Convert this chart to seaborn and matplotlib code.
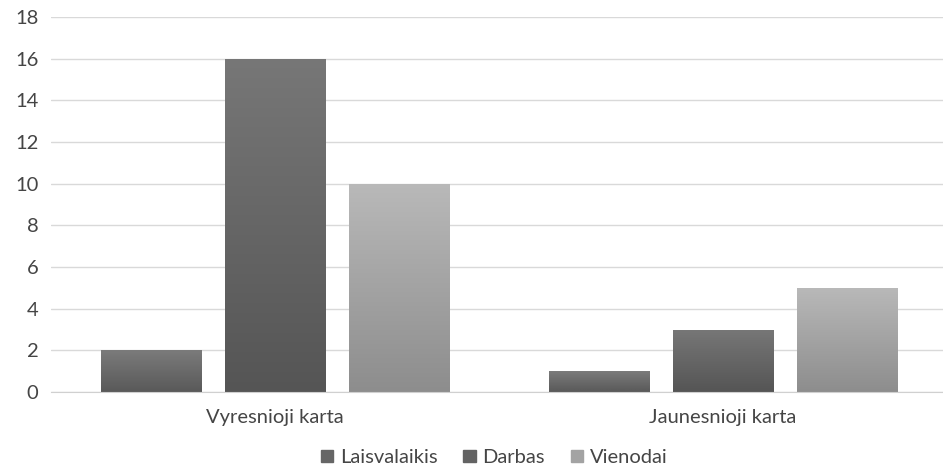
import numpy as np
import pandas as pd
import seaborn as sns
import matplotlib.pyplot as plt
from matplotlib.colors import LinearSegmentedColormap

categories = ["Vyresnioji karta", "Jaunesnioji karta"]
series = ["Laisvalaikis", "Darbas", "Vienodai"]
laisvalaikis = [2, 1]
darbas = [16, 3]
vienodai = [10, 5]

# top / bottom shades of each series gradient
shades = {
    "Laisvalaikis": ("#7b7b7b", "#595959"),
    "Darbas": ("#777777", "#555555"),
    "Vienodai": ("#b9b9b9", "#8d8d8d"),
}
legend_col = {"Laisvalaikis": "#666666", "Darbas": "#636363", "Vienodai": "#a3a3a3"}

df = pd.DataFrame({
    "karta": categories * 3,
    "atsakymas": [s for s in series for _ in categories],
    "kiekis": laisvalaikis + darbas + vienodai,
})

sns.set_style("white")
plt.rcParams["font.family"] = ["Lato", "DejaVu Sans"]
text_col = "#454545"
fs = 14.5

fig = plt.figure(figsize=(9.43, 4.70), dpi=100)
ax = fig.add_axes([51 / 943, 78 / 470, 892 / 943, 375 / 470])

palette = {s: shades[s][1] for s in series}
sns.barplot(data=df, x="karta", y="kiekis", hue="atsakymas", order=categories,
            hue_order=series, palette=palette, width=0.83, gap=0.19,
            ax=ax, legend=True, saturation=1)

ax.set_xlim(-0.5, 1.5 - 4 / 448)
ax.set_ylim(0, 18)

# vertical gradient inside each bar
grad = np.linspace(0, 1, 256).reshape(-1, 1)
for cont, s in zip(ax.containers, series):
    cmap = LinearSegmentedColormap.from_list(s, [shades[s][1], shades[s][0]])
    for patch in cont:
        x0, y0 = patch.get_x(), patch.get_y()
        w, h = patch.get_width(), patch.get_height()
        patch.set_edgecolor("#c8c8c8")
        patch.set_linewidth(0.6)
        im = ax.imshow(grad, cmap=cmap, aspect="auto", origin="lower",
                       extent=[x0, x0 + w, y0, y0 + h], zorder=patch.get_zorder() + 0.1)
        im.set_clip_path(patch)

ax.set_yticks(range(0, 19, 2))
ax.yaxis.grid(True, color="#d9d9d9", linewidth=1)
ax.set_axisbelow(True)
for side in ["top", "right", "left"]:
    ax.spines[side].set_visible(False)
ax.spines["bottom"].set_color("#d0d0d0")
ax.tick_params(axis="both", length=0, labelsize=fs, colors=text_col, pad=9)
ax.tick_params(axis="x", pad=12)
ax.set_xlabel("")
ax.set_ylabel("")

handles, labels = ax.get_legend_handles_labels()
for h, s in zip(handles, series):
    h.set_color(legend_col[s])
    h.set_edgecolor(legend_col[s])
ax.legend(handles, labels, loc="lower center", bbox_to_anchor=(0.497, -0.235),
          ncol=3, frameon=False, fontsize=fs, handlelength=0.6, handleheight=0.6,
          handletextpad=0.35, columnspacing=1.3, labelcolor=text_col,
          borderpad=0.2)

fig.savefig("out.png", dpi=100)
